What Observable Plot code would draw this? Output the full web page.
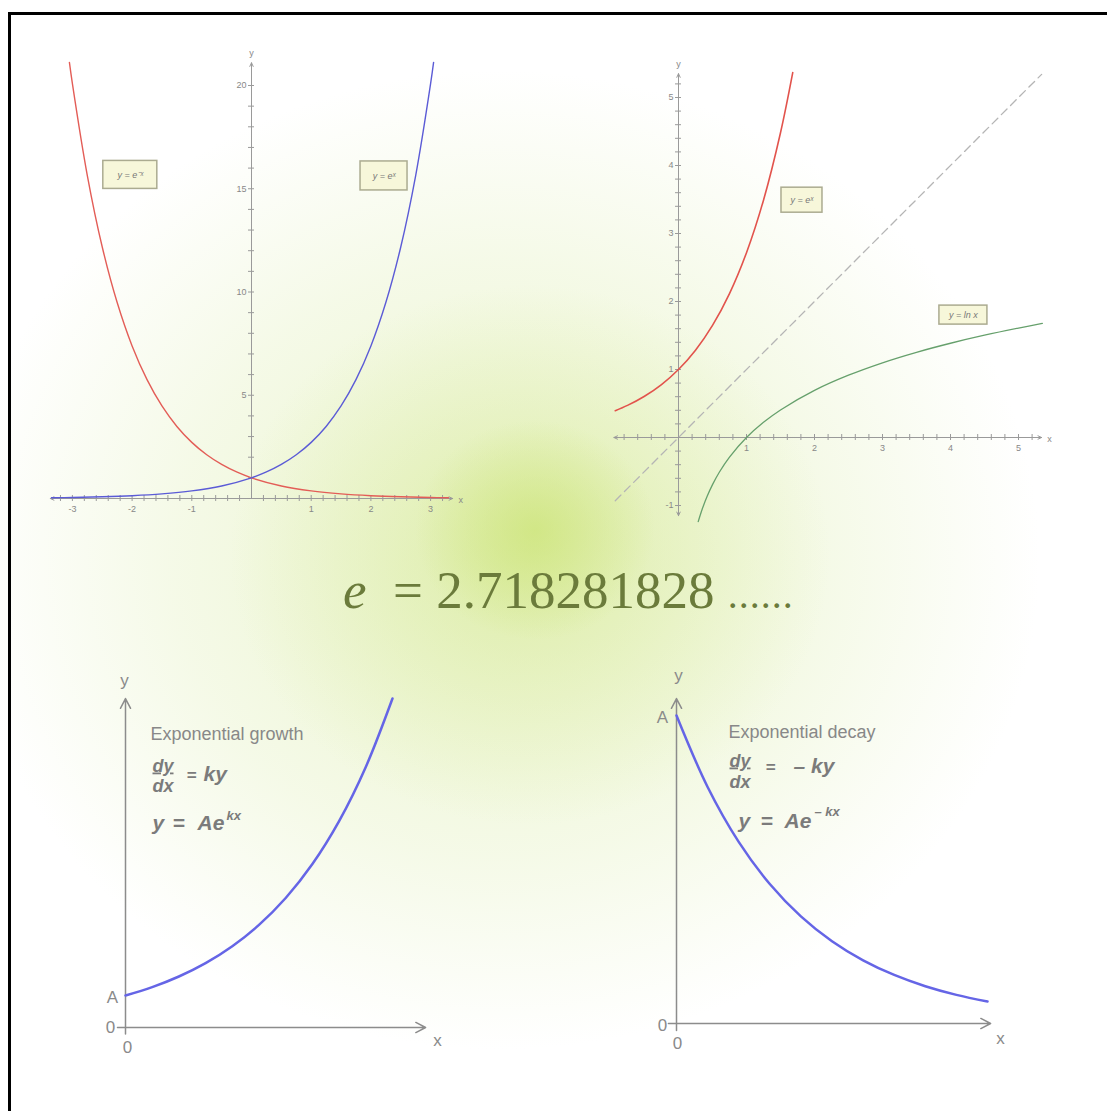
<!DOCTYPE html>
<html>
<head>
<meta charset="utf-8">
<script src="https://cdn.jsdelivr.net/npm/d3@7"></script>
<script src="https://cdn.jsdelivr.net/npm/@observablehq/plot@0.6"></script>
<style>
html, body { margin:0; padding:0; background:#fff; }
#page { position:relative; width:1107px; height:1111px; overflow:hidden;
  background:
    radial-gradient(ellipse 120px 110px at 535px 530px, rgba(200,226,108,0.6), rgba(200,226,108,0) 100%),
    radial-gradient(ellipse 300px 270px at 530px 555px, rgba(216,234,152,0.65), rgba(216,234,152,0) 100%),
    radial-gradient(ellipse 540px 490px at 500px 560px, rgba(232,243,200,0.95), rgba(238,246,215,0.6) 60%, rgba(255,255,255,0) 100%),
    #fff; }
#frame { position:absolute; left:8px; top:12px; width:1200px; height:1200px; border-left:3px solid #000; border-top:3px solid #000; }
#etext { position:absolute; left:343px; top:564px; font-family:"Liberation Serif", "Times New Roman", serif; font-size:53px; line-height:1; color:#6b7b3b; white-space:pre; }
#etext i { font-style:italic; }
#etext .dots { font-size:40px; letter-spacing:1px; }
svg.panel { position:absolute; }
</style>
</head>
<body>
<div id="page"><div id="frame"></div></div>
<script>
// ---------- Panel 1: y = e^x and y = e^-x ----------
const p1BlueX = [-3.35, -3, -2.5, -2, -1.5, -1, -0.5, 0, 0.25, 0.5, 0.75, 1, 1.25, 1.5, 1.75, 2, 2.25, 2.5, 2.75, 3, 3.05];
const p1BlueY = [0.035, 0.050, 0.082, 0.135, 0.223, 0.368, 0.607, 1, 1.284, 1.649, 2.117, 2.718, 3.490, 4.482, 5.755, 7.389, 9.488, 12.18, 15.64, 20.09, 21.12];
const p1RedX = [-3.05, -3, -2.75, -2.5, -2.25, -2, -1.75, -1.5, -1.25, -1, -0.75, -0.5, -0.25, 0, 0.5, 1, 1.5, 2, 2.5, 3, 3.3];
const p1RedY = [21.12, 20.09, 15.64, 12.18, 9.488, 7.389, 5.755, 4.482, 3.490, 2.718, 2.117, 1.649, 1.284, 1, 0.607, 0.368, 0.223, 0.135, 0.082, 0.050, 0.037];
const p1XTickLabels = [-3, -2, -1, 1, 2, 3];
const p1YTickLabels = [5, 10, 15, 20];
const p1Labels = ["y = e\u207B\u02E3", "y = e\u02E3"];
const p1LabelX = [-2.03, 2.22];
const p1LabelY = [15.67, 15.62];

// ---------- Panel 2: y = e^x, y = ln x, y = x ----------
const p2RedX = [-0.93, -0.75, -0.5, -0.25, 0, 0.25, 0.5, 0.75, 1, 1.25, 1.5, 1.68];
const p2RedY = [0.395, 0.472, 0.607, 0.779, 1, 1.284, 1.649, 2.117, 2.718, 3.490, 4.482, 5.366];
const p2GreenX = [0.29, 0.32, 0.36, 0.42, 0.5, 0.6, 0.75, 1, 1.25, 1.5, 2, 2.5, 3, 3.5, 4, 4.5, 5, 5.35];
const p2GreenY = [-1.238, -1.139, -1.022, -0.868, -0.693, -0.511, -0.288, 0, 0.223, 0.405, 0.693, 0.916, 1.099, 1.253, 1.386, 1.504, 1.609, 1.677];
const p2DiagX = [-0.93, 5.34];
const p2DiagY = [-0.93, 5.34];
const p2XTickLabels = [1, 2, 3, 4, 5];
const p2YTickLabels = [-1, 1, 2, 3, 4, 5];
const p2Labels = ["y = e\u02E3", "y = ln x"];
const p2LabelX = [1.816, 4.19];
const p2LabelY = [3.49, 1.80];

// ---------- Panel 3: exponential growth ----------
const p3X = [0, 0.1, 0.2, 0.3, 0.4, 0.5, 0.6, 0.7, 0.8, 0.9, 1.0];
const p3Y = [1, 1.262, 1.594, 2.012, 2.540, 3.206, 4.047, 5.109, 6.450, 8.142, 10.28];

// ---------- Panel 4: exponential decay ----------
const p4X = [0, 0.1, 0.2, 0.3, 0.4, 0.5, 0.6, 0.7, 0.8, 0.9, 1.0];
const p4Y = [10, 7.680, 5.898, 4.530, 3.479, 2.671, 2.051, 1.576, 1.210, 0.929, 0.714];

// ================= rendering =================
const page = document.getElementById("page");
const zip = (xs, ys) => xs.map((x, i) => ({x, y: ys[i]}));
const FONT = "Liberation Sans, Arial, Helvetica, sans-serif";

function place(cfg, marks) {
  const svg = Plot.plot({
    width: cfg.width, height: cfg.height, margin: 0,
    x: {type: "linear", domain: cfg.xDomain, range: cfg.xRange, axis: null},
    y: {type: "linear", domain: cfg.yDomain, range: cfg.yRange, axis: null},
    style: {background: "transparent", overflow: "visible", fontFamily: FONT},
    marks
  });
  svg.classList.add("panel");
  svg.style.left = cfg.left + "px";
  svg.style.top = cfg.top + "px";
  page.appendChild(svg);
  return svg;
}
const pxX = c => Math.abs(c.xRange[1] - c.xRange[0]) / (c.xDomain[1] - c.xDomain[0]);
const pxY = c => Math.abs(c.yRange[1] - c.yRange[0]) / (c.yDomain[1] - c.yDomain[0]);

function gridAxes(c, o) {
  const tx = 3 / pxX(c), ty = 3 / pxY(c);
  const axisColor = "#9a9a9a";
  const arrows = [
    {x1: 0, y1: 0, x2: o.xMin, y2: 0},
    {x1: 0, y1: 0, x2: o.xMax, y2: 0},
    {x1: 0, y1: 0, x2: 0, y2: o.yMax}
  ];
  if (o.yMin < 0) arrows.push({x1: 0, y1: 0, x2: 0, y2: o.yMin});
  return [
    Plot.ruleX(o.minorX, {x: d => d, y1: -ty, y2: ty, stroke: axisColor, strokeWidth: 1}),
    Plot.ruleY(o.minorY, {y: d => d, x1: -tx, x2: tx, stroke: axisColor, strokeWidth: 1}),
    Plot.arrow(arrows, {x1: "x1", y1: "y1", x2: "x2", y2: "y2", stroke: axisColor, strokeWidth: 1, headLength: 6, headAngle: 50}),
    Plot.text(o.xLabels, {x: d => d, y: 0, dy: 11, text: d => String(d), fontSize: 9, fill: "#888"}),
    Plot.text(o.yLabels, {x: 0, y: d => d, dx: -5, textAnchor: "end", text: d => String(d), fontSize: 9, fill: "#888"}),
    Plot.text(["x"], {x: o.xMax, y: 0, dx: 8, dy: 2, text: d => d, fontSize: 9, fill: "#888"}),
    Plot.text(["y"], {x: 0, y: o.yMax, dy: -10, text: d => d, fontSize: 9, fill: "#888"})
  ];
}

function labelBoxes(c, labels, lx, ly, wpx, hpx) {
  const ux = pxX(c), uy = pxY(c);
  const boxes = labels.map((t, i) => ({
    x1: lx[i] - wpx[i] / 2 / ux, x2: lx[i] + wpx[i] / 2 / ux,
    y1: ly[i] - hpx[i] / 2 / uy, y2: ly[i] + hpx[i] / 2 / uy
  }));
  return [
    Plot.rect(boxes, {x1: "x1", x2: "x2", y1: "y1", y2: "y2", fill: "#f7f7da", stroke: "#abab90", strokeWidth: 1.5}),
    Plot.text(labels, {x: (d, i) => lx[i], y: (d, i) => ly[i], text: d => d, fontStyle: "italic", fontSize: 9, fill: "#777"})
  ];
}

// Panel 1
const C1 = {left: 30, top: 30, width: 450, height: 500, xDomain: [-3, 3], xRange: [41.9, 400.1], yDomain: [0, 20], yRange: [468, 55]};
place(C1, [
  ...gridAxes(C1, {
    minorX: d3.range(-16, 17).filter(k => k !== 0).map(k => k * 0.2),
    minorY: d3.range(1, 21),
    xMin: -3.37, xMax: 3.37, yMin: 0, yMax: 21.1,
    xLabels: p1XTickLabels, yLabels: p1YTickLabels
  }),
  Plot.line(zip(p1RedX, p1RedY), {x: "x", y: "y", stroke: "#e35d57", strokeWidth: 1.4, curve: "catmull-rom"}),
  Plot.line(zip(p1BlueX, p1BlueY), {x: "x", y: "y", stroke: "#5b5bd6", strokeWidth: 1.4, curve: "catmull-rom"}),
  ...labelBoxes(C1, p1Labels, p1LabelX, p1LabelY, [54, 47], [28, 29])
]);

// Panel 2
const C2 = {left: 590, top: 50, width: 480, height: 490, xDomain: [0, 5], xRange: [88, 428], yDomain: [0, 5], yRange: [387, 47]};
place(C2, [
  ...gridAxes(C2, {
    minorX: d3.range(-4, 27).filter(k => k !== 0).map(k => k * 0.2),
    minorY: d3.range(-5, 27).filter(k => k !== 0).map(k => k * 0.2),
    xMin: -0.95, xMax: 5.34, yMin: -1.15, yMax: 5.35,
    xLabels: p2XTickLabels, yLabels: p2YTickLabels
  }),
  Plot.line(zip(p2DiagX, p2DiagY), {x: "x", y: "y", stroke: "#b5b5b5", strokeWidth: 1.3, strokeDasharray: "8,5"}),
  Plot.line(zip(p2RedX, p2RedY), {x: "x", y: "y", stroke: "#e2534c", strokeWidth: 1.6, curve: "catmull-rom"}),
  Plot.line(zip(p2GreenX, p2GreenY), {x: "x", y: "y", stroke: "#66a06c", strokeWidth: 1.3, curve: "catmull-rom"}),
  ...labelBoxes(C2, p2Labels, p2LabelX, p2LabelY, [41, 48], [25, 19])
]);

// Bottom panels helpers
const GRAY = "#8c8c8c";
function simpleAxes(o) {
  return [
    Plot.arrow([{x1: o.x0, y1: 0, x2: o.xEnd, y2: 0}, {x1: 0, y1: o.y0, x2: 0, y2: o.yEnd}],
      {x1: "x1", y1: "y1", x2: "x2", y2: "y2", stroke: GRAY, strokeWidth: 1.5, headLength: 11, headAngle: 55})
  ];
}
function lbl(t, x, y, dx, dy) {
  return Plot.text([t], {x, y, dx, dy, text: d => d, fontSize: 17, fill: "#8a8a8a"});
}
function formula(items) {
  return items.map(([t, dx, dy, size, bold]) => Plot.text([t], {
    frameAnchor: "top-left", dx, dy, text: d => d, textAnchor: "start", lineAnchor: "bottom",
    fontSize: size, fontWeight: bold ? "bold" : "normal", fontStyle: bold ? "italic" : "normal",
    fill: bold ? "#7b7b7b" : "#888"
  }));
}
function underline(svg) {
  d3.select(svg).selectAll("text").filter(function () { return this.textContent === "dy"; })
    .attr("text-decoration", "underline");
}

// Panel 3
const C3 = {left: 90, top: 660, width: 370, height: 410, xDomain: [0, 1], xRange: [35, 302], yDomain: [0, 10], yRange: [367, 47]};
const s3 = place(C3, [
  ...simpleAxes({x0: -0.03, xEnd: 1.124, y0: -0.2, yEnd: 10.28}),
  Plot.line(zip(p3X, p3Y), {x: "x", y: "y", stroke: "#6565e6", strokeWidth: 2.5, curve: "catmull-rom"}),
  lbl("y", 0, 10.28, -1, -18),
  lbl("x", 1.124, 0, 12, 13),
  lbl("0", 0, 0, 2, 20),
  lbl("0", 0, 0, -15, 0),
  lbl("A", 0, p3Y[0], -13, 2),
  ...formula([
    ["Exponential growth", 60, 79, 18, false],
    ["dy", 62, 111, 18, true],
    ["dx", 62, 131, 18, true],
    ["=", 96, 120, 17, true],
    ["ky", 113, 120, 21, true],
    ["y", 62, 169, 21, true],
    ["=", 82, 169, 21, true],
    ["Ae", 107, 169, 21, true],
    ["kx", 136, 159, 13, true]
  ])
]);
underline(s3);

// Panel 4
const C4 = {left: 640, top: 660, width: 380, height: 410, xDomain: [0, 1], xRange: [36, 347], yDomain: [0, 10], yRange: [363, 55]};
const s4 = place(C4, [
  ...simpleAxes({x0: -0.026, xEnd: 1.01, y0: -0.23, yEnd: 10.55}),
  Plot.line(zip(p4X, p4Y), {x: "x", y: "y", stroke: "#6565e6", strokeWidth: 2.5, curve: "catmull-rom"}),
  lbl("y", 0, 10.55, 2, -23),
  lbl("x", 1.01, 0, 10, 15),
  lbl("0", 0, 0, 1, 20),
  lbl("0", 0, 0, -14, 2),
  lbl("A", 0, p4Y[0], -14, 2),
  ...formula([
    ["Exponential decay", 88, 77, 18, false],
    ["dy", 89, 106, 18, true],
    ["dx", 89, 127, 18, true],
    ["=", 125, 112, 17, true],
    ["\u2013 ky", 153, 112, 21, true],
    ["y", 98, 167, 21, true],
    ["=", 120, 167, 21, true],
    ["Ae", 144, 167, 21, true],
    ["\u2013 kx", 174, 155, 13, true]
  ])
]);
underline(s4);

// Central constant
const et = document.createElement("div");
et.id = "etext";
et.innerHTML = '<i>e</i>  = 2.718281828 <span class="dots">......</span>';
page.appendChild(et);
</script>
</body>
</html>
